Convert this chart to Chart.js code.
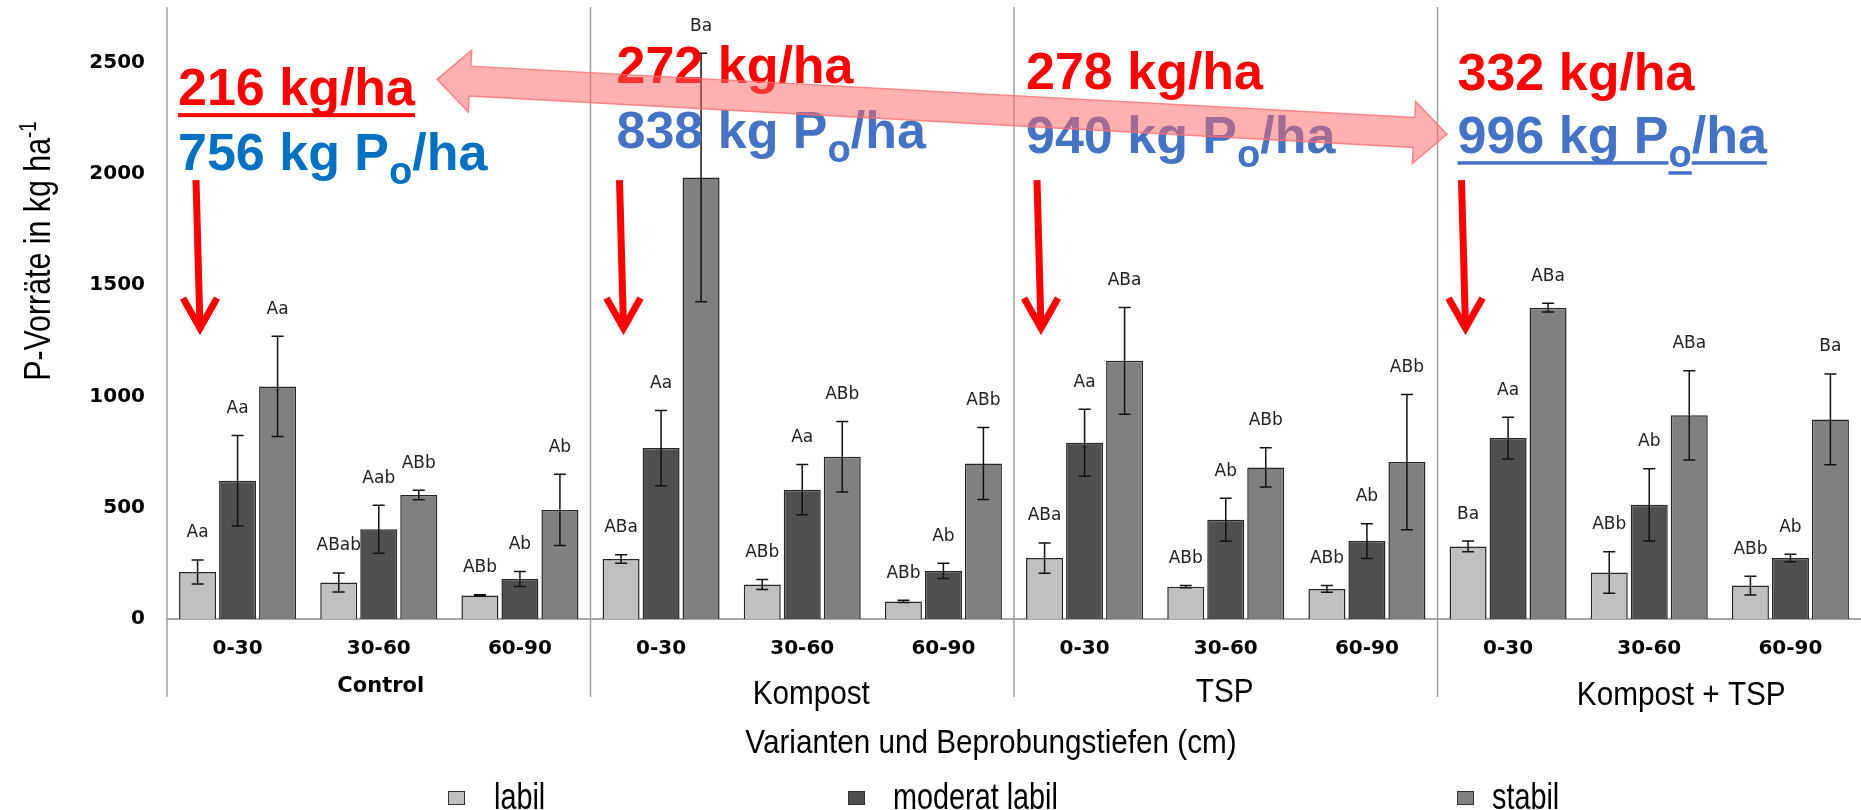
<!DOCTYPE html>
<html>
<head>
<meta charset="utf-8">
<script src="https://cdn.jsdelivr.net/npm/chart.js@4.4.0/dist/chart.umd.min.js"></script>
<style>
html, body { margin: 0; padding: 0; background: #fff; }
</style>
</head>
<body>
<canvas id="chart" width="1861" height="810"></canvas>
<script>
// Tiefen (cm) je Variante
const depths = ['0-30', '30-60', '60-90', '0-30', '30-60', '60-90', '0-30', '30-60', '60-90', '0-30', '30-60', '60-90'];
const variants = ['Control', 'Kompost', 'TSP', 'Kompost + TSP'];
const seriesNames = ['labil', 'moderat labil', 'stabil'];
const seriesColors = ['#c0c0c0', '#4f4f4f', '#808080'];
const yTicks = [0, 500, 1000, 1500, 2000, 2500];

// P-Vorräte (kg/ha) und Fehlerbalken
const labil = [211, 164, 106, 270, 155, 79, 274, 145, 135, 326, 209, 150];
const labilErr = [54, 43, 3, 19, 22, 5, 68, 5, 15, 24, 93, 42];
const moderat = [621, 403, 180, 768, 581, 216, 792, 446, 350, 813, 513, 274];
const moderatErr = [203, 108, 34, 169, 113, 34, 150, 97, 78, 94, 162, 17];
const stabil = [1045, 557, 490, 1984, 729, 699, 1160, 681, 705, 1399, 915, 897];
const stabilErr = [225, 21, 160, 558, 158, 162, 240, 88, 304, 20, 200, 204];

// Signifikanzbuchstaben
const labilSig = ['Aa', 'ABab', 'ABb', 'ABa', 'ABb', 'ABb', 'ABa', 'ABb', 'ABb', 'Ba', 'ABb', 'ABb'];
const moderatSig = ['Aa', 'Aab', 'Ab', 'Aa', 'Aa', 'Ab', 'Aa', 'Ab', 'Ab', 'Aa', 'Ab', 'Ab'];
const stabilSig = ['Aa', 'ABb', 'Ab', 'Ba', 'ABb', 'ABb', 'ABa', 'ABb', 'ABb', 'ABa', 'ABa', 'Ba'];

// Summen je Variante (Anmerkungen)
const labilTotals = ['216 kg/ha', '272 kg/ha', '278 kg/ha', '332 kg/ha'];
const poTotals = ['756', '838', '940', '996'];

const values = [labil, moderat, stabil];
const errors = [labilErr, moderatErr, stabilErr];
const sigs = [labilSig, moderatSig, stabilSig];

// Lage der Anmerkungen (px-Versatz vom Feldrand, y in kg/ha)
const noteDx = [11, 26, 12, 20];
const noteRedY = [2309, 2407, 2380, 2376];
const noteBlueY = [2017, 2116, 2093, 2093];
const noteBlue = ['#0070c0', '#4472c4', '#4472c4', '#4472c4'];
const arrowDx = [29, 29, 23, 24];
const groupDx = [2, 9, -1, 32];
const groupBase = [692, 704, 702, 705];
const legendX = [448, 848, 1457];

function narrowText(ctx, text, x, y, sx, align) {
	ctx.save();
	ctx.translate(x, y);
	ctx.scale(sx, 1);
	const w = ctx.measureText(text).width;
	ctx.textAlign = 'left';
	ctx.fillText(text, align === 'center' ? -w / 2 : 0, 0);
	ctx.restore();
}

const overlay = {
	id: 'overlay',
	afterDatasetsDraw(chart) {
		const ctx = chart.ctx, y = chart.scales.y;
		ctx.save();
		chart.data.datasets.forEach((ds, d) => {
			chart.getDatasetMeta(d).data.forEach((bar, i) => {
				const top = y.getPixelForValue(values[d][i] + errors[d][i]);
				const bot = y.getPixelForValue(values[d][i] - errors[d][i]);
				ctx.strokeStyle = '#111';
				ctx.lineWidth = 1.5;
				ctx.beginPath();
				ctx.moveTo(bar.x, top); ctx.lineTo(bar.x, bot);
				ctx.moveTo(bar.x - 6, top); ctx.lineTo(bar.x + 6, top);
				ctx.moveTo(bar.x - 6, bot); ctx.lineTo(bar.x + 6, bot);
				ctx.stroke();
				ctx.fillStyle = '#222';
				ctx.font = '17px "DejaVu Sans"';
				ctx.textAlign = 'center';
				ctx.textBaseline = 'middle';
				ctx.fillText(sigs[d][i], bar.x, top - 27);
			});
		});
		ctx.restore();
	},
	afterDraw(chart) {
		const ctx = chart.ctx, x = chart.scales.x, y = chart.scales.y, area = chart.chartArea;
		ctx.save();

		// Feldtrenner
		ctx.strokeStyle = '#a0a0a0';
		ctx.lineWidth = 1.5;
		for (let p = 0; p < 4; p++) {
			const px = p === 0 ? area.left : x.getPixelForValue(p * 3 - 0.5);
			ctx.beginPath();
			ctx.moveTo(px, area.top);
			ctx.lineTo(px, 697);
			ctx.stroke();
		}

		// Variantennamen
		ctx.fillStyle = '#000';
		ctx.textBaseline = 'alphabetic';
		variants.forEach((v, p) => {
			const cx = x.getPixelForValue(p * 3 + 1) + groupDx[p];
			if (p === 0) {
				ctx.font = 'bold 21px "DejaVu Sans"';
				narrowText(ctx, v, cx, groupBase[p], 1, 'center');
			} else {
				ctx.font = '33px "Liberation Sans"';
				narrowText(ctx, v, cx, groupBase[p], 0.9, 'center');
			}
		});

		// Achsentitel
		ctx.font = '33px "Liberation Sans"';
		narrowText(ctx, 'Varianten und Beprobungstiefen (cm)', (area.left + area.right) / 2 - 23, 753, 0.9, 'center');

		ctx.save();
		ctx.translate(50, 251);
		ctx.rotate(-Math.PI / 2);
		ctx.scale(0.82, 1);
		ctx.font = '37px "Liberation Sans"';
		const t1 = 'P-Vorräte in kg ha';
		const w1 = ctx.measureText(t1).width;
		ctx.font = '23px "Liberation Sans"';
		const w2 = ctx.measureText('-1').width;
		ctx.textAlign = 'left';
		ctx.font = '37px "Liberation Sans"';
		ctx.fillText(t1, -(w1 + w2) / 2, 0);
		ctx.font = '23px "Liberation Sans"';
		ctx.fillText('-1', -(w1 + w2) / 2 + w1, -14);
		ctx.restore();

		// Legende
		seriesNames.forEach((n, i) => {
			ctx.fillStyle = seriesColors[i];
			ctx.fillRect(legendX[i], 791, 17, 14);
			ctx.strokeStyle = '#333';
			ctx.lineWidth = 1;
			ctx.strokeRect(legendX[i] + 0.5, 791.5, 16, 13);
			ctx.fillStyle = '#000';
			ctx.font = '36px "Liberation Sans"';
			narrowText(ctx, n, legendX[i] + (i === 0 ? 46 : i === 1 ? 45 : 35), 809, 0.8, 'left');
		});

		// Anmerkungen
		const big = 'bold 52px "Liberation Sans"';
		for (let p = 0; p < 4; p++) {
			const left = (p === 0 ? area.left : x.getPixelForValue(p * 3 - 0.5)) + noteDx[p];
			const ry = y.getPixelForValue(noteRedY[p]);
			const by = y.getPixelForValue(noteBlueY[p]);
			ctx.textAlign = 'left';
			ctx.font = big;
			ctx.fillStyle = '#ff0000';
			ctx.fillText(labilTotals[p], left, ry);
			if (p === 0) {
				ctx.fillRect(left, ry + 8, ctx.measureText(labilTotals[p]).width, 4);
			}
			ctx.fillStyle = noteBlue[p];
			const a = poTotals[p] + ' kg P';
			ctx.font = big;
			const wa = ctx.measureText(a).width;
			ctx.fillText(a, left, by);
			ctx.font = 'bold 38px "Liberation Sans"';
			const wo = ctx.measureText('o').width;
			ctx.fillText('o', left + wa, by + 14);
			ctx.font = big;
			const wh = ctx.measureText('/ha').width;
			ctx.fillText('/ha', left + wa + wo, by);
			if (p === 3) {
				ctx.fillRect(left, by + 8, wa, 3.5);
				ctx.fillRect(left + wa, by + 18, wo, 3.5);
				ctx.fillRect(left + wa + wo, by + 8, wh, 3.5);
			}

			// roter Pfeil nach unten
			const ax = left - noteDx[p] + arrowDx[p];
			const ay0 = y.getPixelForValue(1972);
			const ay1 = y.getPixelForValue(1271);
			ctx.strokeStyle = '#ff0000';
			ctx.lineWidth = 7;
			ctx.lineJoin = 'miter';
			ctx.beginPath();
			ctx.moveTo(ax, ay0);
			ctx.lineTo(ax + 4, ay1 - 8);
			ctx.stroke();
			ctx.beginPath();
			ctx.moveTo(ax + 4 - 17, ay1 - 38);
			ctx.lineTo(ax + 4, ay1 - 8);
			ctx.lineTo(ax + 4 + 17, ay1 - 38);
			ctx.stroke();
		}

		// rosa Doppelpfeil
		const L = { x: x.getPixelForValue(1.413), y: y.getPixelForValue(2425) };
		const R = { x: x.getPixelForValue(8.567), y: y.getPixelForValue(2178) };
		const len = Math.hypot(R.x - L.x, R.y - L.y);
		const dx = (R.x - L.x) / len, dy = (R.y - L.y) / len;
		const nx = -dy, ny = dx;
		const hl = 33, hw = 31, sw = 15;
		const pt = (b, s, k) => [b.x + dx * s + nx * k, b.y + dy * s + ny * k];
		const pts = [
			[L.x, L.y], pt(L, hl, -hw), pt(L, hl, -sw), pt(R, -hl, -sw), pt(R, -hl, -hw),
			[R.x, R.y], pt(R, -hl, hw), pt(R, -hl, sw), pt(L, hl, sw), pt(L, hl, hw)
		];
		ctx.beginPath();
		pts.forEach((q, i) => i ? ctx.lineTo(q[0], q[1]) : ctx.moveTo(q[0], q[1]));
		ctx.closePath();
		ctx.fillStyle = 'rgba(255, 100, 100, 0.5)';
		ctx.fill();
		ctx.strokeStyle = 'rgba(255, 110, 110, 0.8)';
		ctx.lineWidth = 1.5;
		ctx.stroke();

		ctx.restore();
	}
};

new Chart(document.getElementById('chart'), {
	type: 'bar',
	data: {
		labels: depths,
		datasets: seriesNames.map((n, i) => ({
			label: n,
			data: values[i],
			backgroundColor: seriesColors[i],
			borderColor: '#262626',
			borderWidth: 1.5,
			categoryPercentage: 0.85,
			barPercentage: 0.925
		}))
	},
	options: {
		responsive: false,
		animation: false,
		layout: { padding: { top: 7, left: 0, right: 0, bottom: 0 } },
		plugins: { legend: { display: false }, tooltip: { enabled: false } },
		scales: {
			x: {
				grid: { display: false, drawTicks: false },
				border: { display: true, color: '#a6a6a6', width: 2 },
				ticks: { color: '#000', font: { family: 'DejaVu Sans', weight: 'bold', size: 20 }, padding: 18, maxRotation: 0, autoSkip: false },
				afterFit(s) { s.height = 191; s.paddingLeft = 0; s.paddingRight = 0; }
			},
			y: {
				min: 0,
				max: 2750,
				grid: { display: false, drawTicks: false },
				border: { display: false },
				ticks: { color: '#000', font: { family: 'DejaVu Sans', weight: 'bold', size: 20 }, padding: 22, callback: v => String(v) },
				afterBuildTicks(s) { s.ticks = yTicks.map(v => ({ value: v })); },
				afterFit(s) { s.width = 167; s.paddingTop = 0; s.paddingBottom = 0; }
			}
		}
	},
	plugins: [overlay]
});
</script>
</body>
</html>
